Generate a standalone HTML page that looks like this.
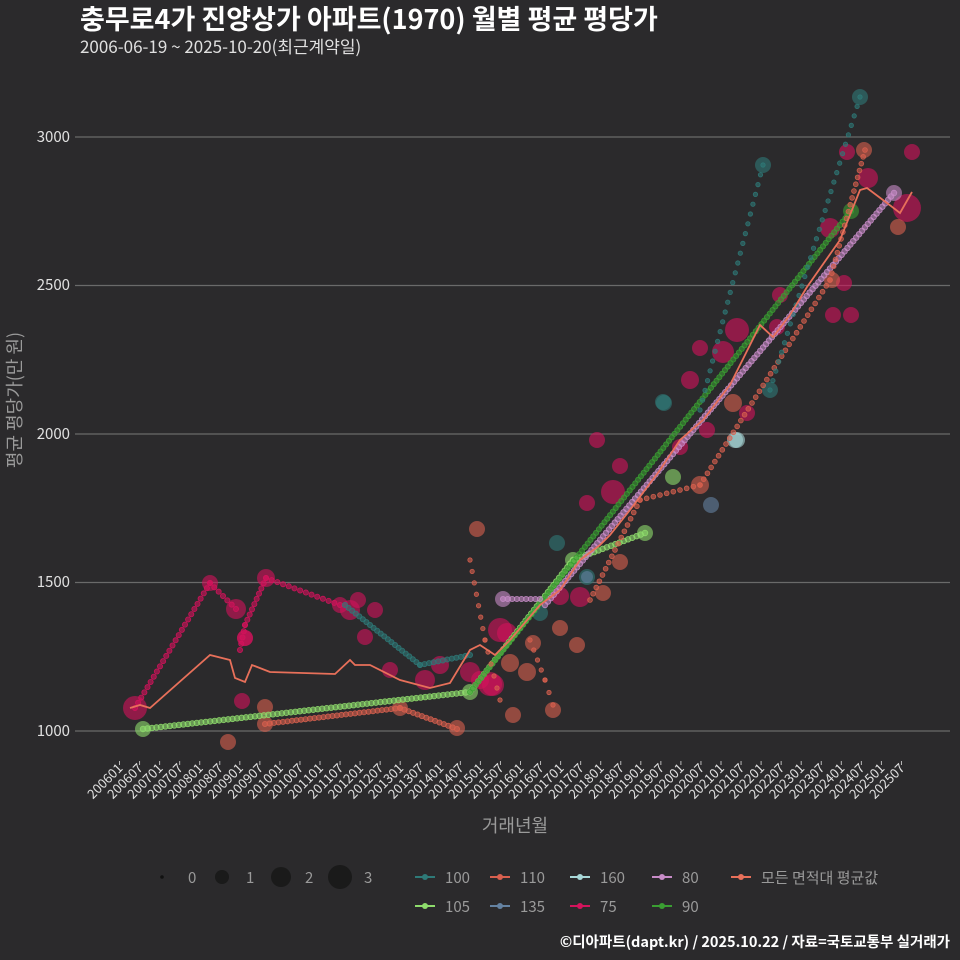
<!DOCTYPE html>
<html><head><meta charset="utf-8">
<style>
html,body{margin:0;padding:0;background:#2b2a2c;}
svg{display:block;font-family:"Noto Sans CJK KR","Liberation Sans",sans-serif;}
</style></head>
<body>
<svg id="s" width="960" height="960" viewBox="0 0 960 960" xmlns="http://www.w3.org/2000/svg">
<rect width="960" height="960" fill="#2b2a2c"/>
<text x="80" y="29" fill="#ffffff" font-size="27" font-weight="bold">충무로4가 진양상가 아파트(1970) 월별 평균 평당가</text>
<text x="80" y="53" fill="#e0e0e0" font-size="17">2006-06-19 ~ 2025-10-20(최근계약일)</text>
<g stroke="#6a6a6a" stroke-width="1.2">
<line x1="75" x2="950" y1="137" y2="137"/>
<line x1="75" x2="950" y1="285.5" y2="285.5"/>
<line x1="75" x2="950" y1="434" y2="434"/>
<line x1="75" x2="950" y1="582.5" y2="582.5"/>
<line x1="75" x2="950" y1="731" y2="731"/>
</g>
<g fill="#e0e0e0" font-size="15" text-anchor="end">
<text x="70" y="142">3000</text>
<text x="70" y="290">2500</text>
<text x="70" y="439">2000</text>
<text x="70" y="587">1500</text>
<text x="70" y="736">1000</text>
</g>
<text transform="translate(21,400) rotate(-90)" fill="#9a9a9a" font-size="18" text-anchor="middle">평균 평당가(만 원)</text>
<text x="515" y="832" fill="#9a9a9a" font-size="18" text-anchor="middle">거래년월</text>
<g id="xt"></g>
<g id="bub"></g>
<g id="lines"></g>
<g>
<circle cx="162" cy="877" r="1.8" fill="#111"/>
<circle cx="222" cy="877" r="7" fill="#1a1a1a"/>
<circle cx="281" cy="877" r="10" fill="#1a1a1a"/>
<circle cx="340" cy="877" r="12" fill="#1a1a1a"/>
<g fill="#9a9a9a" font-size="15">
<text x="188" y="883">0</text><text x="246" y="883">1</text><text x="305" y="883">2</text><text x="364" y="883">3</text>
</g>
</g>
<g id="leg" font-size="15" fill="#9a9a9a"></g>
<text x="950" y="947" fill="#ffffff" font-size="14.5" font-weight="bold" text-anchor="end">©디아파트(dapt.kr) / 2025.10.22 / 자료=국토교통부 실거래가</text>
</svg>
<script>
var NS="http://www.w3.org/2000/svg";
function el(p,t,a){var e=document.createElementNS(NS,t);for(var k in a)e.setAttribute(k,a[k]);p.appendChild(e);return e;}
var xt=document.getElementById('xt');
for(var i=0;i<40;i++){
 var yr=2006+Math.floor(i/2),m=i%2?'07':'01';
 var x=119.5+i*20.05;
 el(xt,'line',{x1:x,x2:x,y1:761,y2:765,stroke:'#bbb','stroke-width':1});
 var t=el(xt,'text',{transform:'translate('+(x+4)+',769) rotate(-45)',fill:'#e0e0e0','font-size':'13','text-anchor':'end'});
 t.textContent=yr+m;
}
var C={c75:'#d4135c',c100:'#2e7a78',c110:'#d9604f',c160:'#a8d8d8',c80:'#c88cc8',c105:'#8edc6c',c135:'#6482a2',c90:'#3a9e32',avg:'#e8705a'};
var bub=document.getElementById('bub'),lines=document.getElementById('lines');
function chain(pts,col,r,step,op){
 for(var i=0;i<pts.length-1;i++){
  var a=pts[i],b=pts[i+1],d=Math.hypot(b[0]-a[0],b[1]-a[1]),n=Math.max(1,Math.round(d/step));
  for(var k=0;k<=n;k++){el(lines,'circle',{cx:a[0]+(b[0]-a[0])*k/n,cy:a[1]+(b[1]-a[1])*k/n,r:r,fill:col,'fill-opacity':op||0.6,stroke:col,'stroke-opacity':0.9,'stroke-width':0.8});}
 }
}
function B(list,col){list.forEach(function(p){el(bub,'circle',{cx:p[0],cy:p[1],r:p[2]||9,fill:col,'fill-opacity':0.6});});}
B([[135,708,12],[210,583,8],[236,609,10],[245,638,8],[242,701,8],[266,578,9],[340,605,8],[350,610,10],[358,600,8],[365,637,8],[375,610,8],[390,670,8],[425,680,10],[440,665,9],[470,672,10],[480,680,9],[490,684,12],[493,685,11],[500,630,12],[507,633,10],[560,596,9],[580,597,10],[587,503,8],[597,440,8],[613,492,12],[620,466,8],[690,380,9],[700,348,8],[707,430,8],[723,352,11],[737,330,12],[747,413,8],[777,327,8],[780,295,8],[830,228,10],[833,315,8],[844,283,8],[851,315,8],[847,152,8],[868,178,10],[907,208,14],[912,152,8],[680,447,8],[245,638,8]],C.c75);
B([[228,742,8],[265,724,8],[265,707,8],[400,708,8],[457,728,8],[477,529,8],[513,715,8],[527,672,9],[510,663,9],[533,643,8],[553,710,8],[560,628,8],[577,645,8],[603,593,8],[620,562,8],[700,485,9],[733,403,9],[832,280,8],[864,150,8],[898,227,8]],C.c110);
B([[557,543,8],[587,577,8],[540,613,8],[664,403,8],[763,165,8],[770,390,8],[860,97,8],[663,402,8]],C.c100);
B([[737,440,8],[735,440,8]],C.c160);
B([[503,599,8],[894,193,8]],C.c80);
B([[711,505,8],[587,577,6]],C.c135);
B([[143,729,8],[470,692,8],[573,560,8],[645,533,8],[673,477,8]],C.c105);
B([[851,211,8]],C.c90);
chain([[135,708],[210,583],[236,609]],C.c75,2.6,6);
chain([[240,650],[245,625],[266,578],[340,605]],C.c75,2.6,6);
chain([[345,605],[420,665],[470,655]],C.c100,2.6,4.5);
chain([[265,724],[400,708],[457,729]],C.c110,2.6,4.5);
chain([[143,729],[470,692]],C.c105,2.8,4.5);
chain([[470,692],[573,560],[645,533]],C.c105,2.8,4.5);
chain([[470,692],[851,211]],C.c90,2.6,4.5);
chain([[503,599],[540,599]],C.c80,2.6,4.5);
chain([[545,605],[894,193]],C.c80,2.8,4.5);
chain([[590,600],[640,500],[700,485]],C.c110,2.4,7);
chain([[700,485],[830,280],[865,150]],C.c110,2.4,7);
chain([[700,410],[763,165]],C.c100,2.2,10);
chain([[770,390],[860,97]],C.c100,2.2,10);
chain([[470,560],[485,640],[500,700]],C.c110,2.2,12);
chain([[530,640],[545,680],[553,705]],C.c110,2.2,12);
var avg=[[130,708],[140,705],[150,708],[210,655],[230,660],[235,678],[245,682],[252,665],[270,672],[335,674],[350,660],[355,665],[370,665],[400,680],[430,688],[450,683],[470,650],[480,645],[495,655],[510,640],[540,605],[560,590],[580,560],[600,545],[610,535],[630,510],[660,470],[680,440],[703,420],[730,385],[760,325],[773,337],[790,315],[807,287],[840,240],[860,190],[867,188],[887,203],[900,213],[912,192]];
el(lines,'polyline',{points:avg.map(function(p){return p.join(',')}).join(' '),fill:'none',stroke:C.avg,'stroke-width':1.8});
var leg=document.getElementById('leg');
var L=[[425,877,C.c100,'100'],[500,877,C.c110,'110'],[580,877,C.c160,'160'],[662,877,C.c80,'80'],[741,877,C.avg,'모든 면적대 평균값'],[425,906,C.c105,'105'],[500,906,C.c135,'135'],[580,906,C.c75,'75'],[662,906,C.c90,'90']];
L.forEach(function(l){
 el(leg,'line',{x1:l[0]-10,x2:l[0]+10,y1:l[1],y2:l[1],stroke:l[2],'stroke-width':2});
 el(leg,'circle',{cx:l[0],cy:l[1],r:3,fill:l[2]});
 var t=el(leg,'text',{x:l[0]+20,y:l[1]+6});t.textContent=l[3];
});
</script>
</body></html>
